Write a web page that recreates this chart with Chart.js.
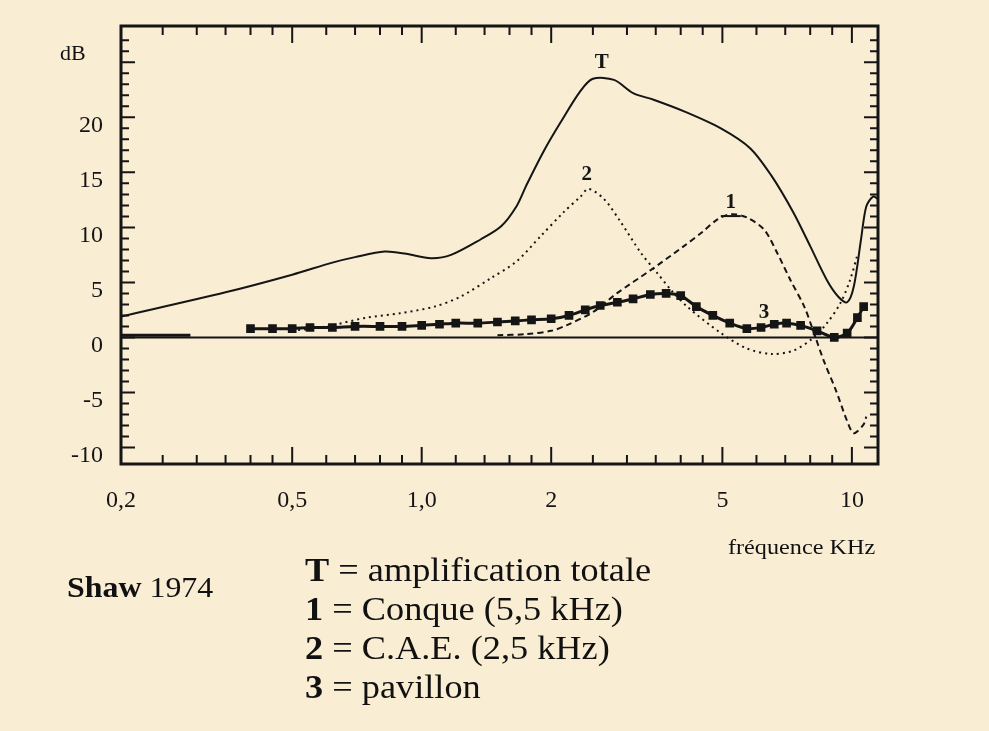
<!DOCTYPE html>
<html>
<head>
<meta charset="utf-8">
<title>Shaw 1974</title>
<script src="https://cdn.jsdelivr.net/npm/chart.js@4.4.1/dist/chart.umd.min.js"></script>
<style>
  html, body { margin: 0; padding: 0; }
  body { background: #f9edd4; width: 989px; height: 731px; overflow: hidden; }
  #wrap { position: relative; width: 989px; height: 731px; font-family: "Liberation Serif", "DejaVu Serif", serif; color: #111; }
  #chart { position: absolute; left: 0; top: 0; }
  .txt { position: absolute; white-space: nowrap; line-height: 1; transform-origin: 0 0; transform: scaleX(1.1); }
  #unit { left: 60px; top: 43px; font-size: 20px; }
  #xtitle { left: 728px; top: 536px; font-size: 22px; }
  #source { left: 67px; top: 573px; font-size: 29px; }
  #legend { left: 305px; top: 551px; font-size: 33px; line-height: 39px; }
  #legend div { white-space: nowrap; }
</style>
</head>
<body>
<div id="wrap">
  <canvas id="chart" width="989" height="731"></canvas>
  <div class="txt" id="unit">dB</div>
  <div class="txt" id="xtitle">fréquence KHz</div>
  <div class="txt" id="source"><b>Shaw</b> 1974</div>
  <div class="txt" id="legend">
    <div><b>T</b> = amplification totale</div>
    <div><b>1</b> = Conque (5,5 kHz)</div>
    <div><b>2</b> = C.A.E. (2,5 kHz)</div>
    <div><b>3</b> = pavillon</div>
  </div>
</div>
<script>
// T : amplification totale
const freqT = [0.2, 0.35, 0.5, 0.62, 0.7, 0.82, 0.92, 1.05, 1.17, 1.37, 1.53, 1.66, 1.75, 1.92, 2.1, 2.34, 2.5, 2.8, 3.1, 3.46, 4.1, 4.96, 5.8, 6.5, 7.3, 8.0, 8.75, 9.3, 9.75, 10.1, 10.5, 10.8, 11.2, 11.5];
const dbT = [1.9, 4.1, 5.7, 6.8, 7.3, 7.8, 7.6, 7.2, 7.5, 8.9, 10.1, 11.9, 13.8, 16.9, 19.5, 22.4, 23.5, 23.4, 22.2, 21.6, 20.5, 19.0, 17.2, 14.7, 11.4, 8.3, 5.2, 3.7, 3.2, 4.6, 8.9, 11.9, 12.8, 12.6];

// 1 : conque
const freq1 = [1.5, 1.75, 2.0, 2.17, 2.5, 2.84, 3.4, 4.07, 4.5, 4.86, 5.23, 5.7, 6.25, 6.7, 7.2, 7.75, 8.13, 8.6, 9.2, 9.75, 10.1, 10.65, 10.8];
const db1 = [0.2, 0.3, 0.6, 1.1, 2.3, 4.0, 6.1, 8.3, 9.6, 10.7, 11.2, 10.9, 9.8, 7.7, 5.2, 2.8, 0.6, -2.1, -4.9, -7.6, -8.7, -7.9, -7.2];

// 2 : conduit auditif externe
const freq2 = [0.5, 0.6, 0.745, 0.89, 1.07, 1.23, 1.45, 1.66, 1.89, 2.14, 2.34, 2.44, 2.65, 2.9, 3.23, 3.52, 3.8, 4.14, 4.96, 5.7, 6.5, 7.3, 8.1, 8.75, 9.4, 9.9, 10.3];
const db2 = [0.6, 1.0, 1.8, 2.2, 2.8, 3.7, 5.4, 6.9, 9.2, 11.4, 12.8, 13.5, 12.6, 10.5, 7.7, 5.9, 4.3, 2.8, 0.4, -1.0, -1.5, -1.2, -0.1, 1.3, 3.1, 5.2, 7.5];

// 3 : pavillon (null = interruption du trace)
const freq3 = [0.2, 0.29, 0.33, 0.4, 0.45, 0.5, 0.55, 0.62, 0.7, 0.8, 0.9, 1.0, 1.1, 1.2, 1.35, 1.5, 1.65, 1.8, 2.0, 2.2, 2.4, 2.6, 2.85, 3.1, 3.4, 3.7, 4.0, 4.35, 4.75, 5.2, 5.7, 6.15, 6.6, 7.05, 7.6, 8.3, 9.1, 9.75, 10.3, 10.65];
const db3 = [0.2, 0.2, null, 0.8, 0.8, 0.8, 0.9, 0.9, 1.0, 1.0, 1.0, 1.1, 1.2, 1.3, 1.3, 1.4, 1.5, 1.6, 1.7, 2.0, 2.5, 2.9, 3.2, 3.5, 3.9, 4.0, 3.8, 2.8, 2.0, 1.3, 0.8, 0.9, 1.2, 1.3, 1.1, 0.6, 0.0, 0.4, 1.8, 2.8];

// axes
const xLabelVals = [0.2, 0.5, 1, 2, 5, 10];
const xLabelText = ["0,2", "0,5", "1,0", "2", "5", "10"];
const xTickVals = [0.25, 0.3, 0.35, 0.4, 0.45, 0.5, 0.6, 0.7, 0.8, 0.9, 1, 1.2, 1.4, 1.6, 1.8, 2, 2.5, 3, 3.5, 4, 4.5, 5, 6, 7, 8, 9, 10];
const yLabelVals = [-10, -5, 0, 5, 10, 15, 20, 25];
const yTickVals = [-10, -9, -8, -7, -6, -5, -4, -3, -2, -1, 0, 1, 2, 3, 4, 5, 6, 7, 8, 9, 10, 11, 12, 13, 14, 15, 16, 17, 18, 19, 20, 21, 22, 23, 24, 25, 26, 27];

// curve labels
const curveNames = ["T", "2", "1", "3"];
const curveNameFreq = [2.62, 2.42, 5.23, 6.25];
const curveNameDb = [25.0, 14.8, 12.3, 2.3];

const INK = "#151515";

function pts(xs, ys) {
  return xs.map((x, i) => ({ x: x, y: ys[i] }));
}

const framePlugin = {
  id: "frame",
  beforeDatasetsDraw(chart) {
    const { ctx, chartArea: a, scales: { x, y } } = chart;
    ctx.save();
    ctx.strokeStyle = INK;
    // zero line
    ctx.lineWidth = 2;
    const y0 = y.getPixelForValue(0);
    ctx.beginPath();
    ctx.moveTo(a.left, y0);
    ctx.lineTo(a.right, y0);
    ctx.stroke();
    // inward ticks
    ctx.lineWidth = 2;
    xTickVals.forEach(v => {
      const px = x.getPixelForValue(v);
      const len = xLabelVals.includes(v) ? 17 : 9;
      ctx.beginPath();
      ctx.moveTo(px, a.bottom); ctx.lineTo(px, a.bottom - len);
      ctx.moveTo(px, a.top); ctx.lineTo(px, a.top + len);
      ctx.stroke();
    });
    yTickVals.forEach(v => {
      const py = y.getPixelForValue(v);
      const len = v % 5 === 0 ? 14 : 8;
      ctx.beginPath();
      ctx.moveTo(a.left, py); ctx.lineTo(a.left + len, py);
      ctx.moveTo(a.right, py); ctx.lineTo(a.right - len, py);
      ctx.stroke();
    });
    // frame
    ctx.lineWidth = 3;
    ctx.strokeRect(a.left, a.top, a.right - a.left, a.bottom - a.top);
    ctx.restore();
  },
  afterDatasetsDraw(chart) {
    const { ctx, scales: { x, y } } = chart;
    ctx.save();
    ctx.fillStyle = INK;
    ctx.strokeStyle = INK;
    ctx.font = "bold 21px 'Liberation Serif'";
    ctx.textAlign = "center";
    ctx.textBaseline = "middle";
    curveNames.forEach((t, i) => {
      const px = x.getPixelForValue(curveNameFreq[i]);
      const py = y.getPixelForValue(curveNameDb[i]);
      ctx.fillText(t, px, py);
      if (t === "1") {
        ctx.lineWidth = 2;
        ctx.beginPath();
        ctx.moveTo(px - 10, py + 14); ctx.lineTo(px + 10, py + 14);
        ctx.stroke();
      }
    });
    ctx.restore();
  }
};

new Chart(document.getElementById("chart"), {
  type: "line",
  data: {
    datasets: [
      {
        label: "T",
        data: pts(freqT, dbT),
        borderColor: INK, borderWidth: 2, pointRadius: 0, tension: 0.3
      },
      {
        label: "1",
        data: pts(freq1, db1),
        borderColor: INK, borderWidth: 2, borderDash: [6, 4], pointRadius: 0, tension: 0.3
      },
      {
        label: "2",
        data: pts(freq2, db2),
        borderColor: INK, borderWidth: 2, borderDash: [2, 4], pointRadius: 0, tension: 0.3
      },
      {
        label: "3",
        data: pts(freq3, db3),
        borderColor: INK, backgroundColor: INK, borderWidth: 3, tension: 0.3,
        pointStyle: "rect",
        pointRadius: c => (c.dataIndex < 2 ? 0 : 4),
        spanGaps: false
      }
    ]
  },
  options: {
    responsive: false,
    animation: false,
    devicePixelRatio: 1,
    layout: { padding: { top: 26, right: 111, left: 0, bottom: 0 } },
    plugins: { legend: { display: false }, tooltip: { enabled: false } },
    scales: {
      x: {
        type: "logarithmic",
        min: 0.2,
        max: 11.5,
        grid: { display: false, drawTicks: false },
        border: { display: false },
        afterBuildTicks: s => { s.ticks = xLabelVals.map(v => ({ value: v })); },
        afterFit: s => { s.height = 267; s.paddingLeft = 0; s.paddingRight = 0; },
        ticks: {
          autoSkip: false,
          maxRotation: 0,
          padding: 22,
          color: INK,
          font: { family: "Liberation Serif", size: 24 },
          callback: (v) => {
            const i = xLabelVals.indexOf(v);
            return i >= 0 ? xLabelText[i] : "";
          }
        }
      },
      y: {
        type: "linear",
        min: -11.5,
        max: 28.3,
        grid: { display: false, drawTicks: false },
        border: { display: false },
        afterBuildTicks: s => { s.ticks = yLabelVals.map(v => ({ value: v })); },
        afterFit: s => { s.width = 121; s.paddingTop = 0; s.paddingBottom = 0; },
        ticks: {
          autoSkip: false,
          padding: 18,
          labelOffset: 8,
          color: INK,
          font: { family: "Liberation Serif", size: 24 },
          callback: v => (v === 25 ? "" : String(v))
        }
      }
    }
  },
  plugins: [framePlugin]
});
</script>
</body>
</html>
